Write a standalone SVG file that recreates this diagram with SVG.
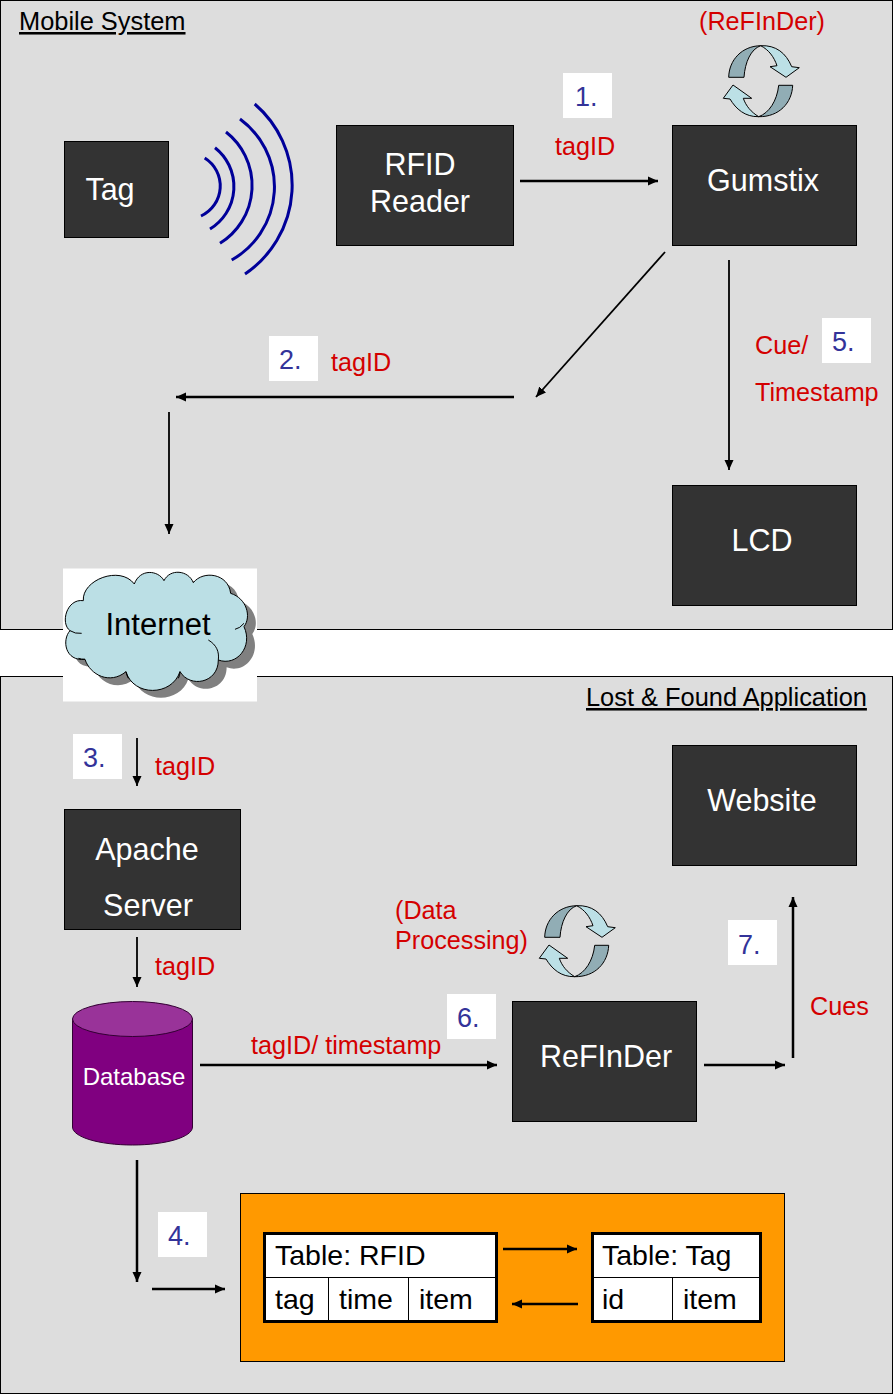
<svg xmlns="http://www.w3.org/2000/svg" xmlns:xlink="http://www.w3.org/1999/xlink" width="896" height="1398" viewBox="0 0 896 1398">
<style>
text{font-family:"Liberation Sans",Arial,sans-serif}
.panel{fill:#dddddd;stroke:#000;stroke-width:1}
.box{fill:#333333;stroke:#000;stroke-width:1}
.bt{fill:#fff;font-size:30.500px;text-anchor:middle}
.red{fill:#d40000;font-size:25.200px}
.num{fill:#333399;font-size:27px}
.nbox{fill:#fff}
.ttl{fill:#000;font-size:25.400px;text-decoration:underline}
.tt{fill:#000;font-size:28.500px}
.c{fill:none;stroke:#000;stroke-width:2.500}
.c1{fill:none;stroke:#000;stroke-width:1.800}
.wave{fill:none;stroke:#000099;stroke-width:3}
.dk{fill:#91adb5;stroke:#000;stroke-width:1}
.lt{fill:#bce0e6;stroke:#000;stroke-width:1}
.tb{fill:#fff;stroke:#000;stroke-width:3}
.tl{fill:none;stroke:#000;stroke-width:1}
</style>
<defs>
<marker id="a" markerWidth="12" markerHeight="12" refX="10" refY="5" orient="auto" markerUnits="userSpaceOnUse"><path d="M0 0.500L10 5L0 9.500Z" fill="#000"/></marker>
<g id="cyc">
<path class="dk" d="M728.7 77.3C729 60 742 46 760.7 45.7C751 49 745 62 744 77.3Z"/>
<path class="lt" d="M760.7 45.7C776 45 786 53 791.7 66.7L799.3 67.7L786 77.3L770 66.7L777 65.7C774 57 769 50 760.7 45.7Z"/>
<path class="dk" d="M792.7 85.3C792 103 779 117 758.7 116.7C769 113 777 101 778.7 85.3Z"/>
<path class="lt" d="M758.7 116.7C745 117 736 109 730 99L723.3 98.3L733 85L751.7 98.3L743.3 98.3C746 106 751 112 758.7 116.7Z"/>
</g>
<path id="cl" d="M130 122C125 60 240 15 283 72C300 25 355 30 372 62C390 25 445 30 460 68C490 30 565 40 572 100C620 115 635 170 612 200C640 260 590 320 535 300C535 370 450 385 420 335C395 410 280 410 258 335C210 375 150 345 135 298C75 305 65 240 90 212C60 190 80 115 130 122Z"/>
</defs>
<rect width="896" height="1398" fill="#fff"/>
<rect class="panel" x="0.500" y="0.500" width="892" height="629"/>
<rect class="panel" x="0.500" y="676.500" width="892" height="717"/>
<text class="ttl" x="19" y="30">Mobile System</text>
<text class="ttl" x="586" y="706">Lost &amp; Found Application</text>

<g id="connectors">
<path class="c" marker-end="url(#a)" d="M520 181H658"/>
<path class="c1" marker-end="url(#a)" d="M665 252L536 397"/>
<path class="c" marker-end="url(#a)" d="M514 397H176"/>
<path class="c1" marker-end="url(#a)" d="M169 412V534"/>
<path class="c1" marker-end="url(#a)" d="M729 260V470"/>
<path class="c1" marker-end="url(#a)" d="M137 738V786"/>
<path class="c1" marker-end="url(#a)" d="M137 937V987"/>
<path class="c" marker-end="url(#a)" d="M200 1065H497"/>
<path class="c" marker-end="url(#a)" d="M704 1065H785"/>
<path class="c" marker-end="url(#a)" d="M793 1058V897"/>
<path class="c" marker-end="url(#a)" d="M137 1160V1282"/>
<path class="c" marker-end="url(#a)" d="M152 1289H225"/>
</g>

<g id="tag"><rect class="box" x="64.500" y="141.500" width="104" height="96"/><text class="bt" x="110" y="200">Tag</text></g>
<g id="waves">
<path class="wave" d="M204.700 158A33 33 0 0 1 201 216"/>
<path class="wave" d="M215 147.700A49.500 49.500 0 0 1 210 229"/>
<path class="wave" d="M226 132A68 68 0 0 1 220 243.300"/>
<path class="wave" d="M240 119A84 84 0 0 1 231.700 260"/>
<path class="wave" d="M254.700 104A107 107 0 0 1 245 274"/>
</g>
<g id="rfid-reader"><rect class="box" x="336.500" y="125.500" width="177" height="120"/><text class="bt" x="420" y="175">RFID</text><text class="bt" x="420" y="212">Reader</text></g>
<g id="gumstix"><rect class="box" x="672.500" y="125.500" width="184" height="120"/><text class="bt" x="763" y="191">Gumstix</text></g>
<g id="lcd"><rect class="box" x="672.500" y="485.500" width="184" height="120"/><text class="bt" x="762" y="551">LCD</text></g>
<g id="website"><rect class="box" x="672.500" y="745.500" width="184" height="120"/><text class="bt" x="762" y="811">Website</text></g>
<g id="apache"><rect class="box" x="64.500" y="809.500" width="176" height="120"/><text class="bt" x="147" y="860">Apache</text><text class="bt" x="148" y="916">Server</text></g>
<g id="refinder"><rect class="box" x="512.500" y="1001.500" width="184" height="120"/><text class="bt" x="606" y="1067">ReFInDer</text></g>

<g id="refinder-cycle"><use xlink:href="#cyc" href="#cyc"/></g>
<g id="processing-cycle"><use xlink:href="#cyc" href="#cyc" transform="translate(-184 860)"/></g>

<g id="internet">
<rect x="63" y="568.500" width="194" height="133" fill="#fff"/>
<g transform="translate(40 560) scale(.3333)">
<use href="#cl" xlink:href="#cl" transform="translate(25 22)" fill="#808080"/>
<use href="#cl" xlink:href="#cl" fill="#bbdfe5" stroke="#000" stroke-width="3"/>
<path d="M505 240C530 255 538 275 535 300M585 208Q600 205 612 190M90 212Q105 222 125 220M135 298Q125 298 115 295M258 335Q260 347 265 355M420 335Q420 347 415 355" fill="none" stroke="#000" stroke-width="3"/>
</g>
<text x="158" y="635" font-size="31" text-anchor="middle" fill="#000">Internet</text>
</g>

<g id="database">
<path d="M72.500 1019V1127C72.500 1137 99 1145 132.500 1145S192.500 1137 192.500 1127V1019Z" fill="#800080" stroke="#330033"/>
<ellipse cx="132.500" cy="1019" rx="60" ry="17.500" fill="#993399" stroke="#330033"/>
<text x="134" y="1085" font-size="24" text-anchor="middle" fill="#fff">Database</text>
</g>

<g id="tables">
<rect x="240.500" y="1193.500" width="544" height="168" fill="#ff9900" stroke="#000"/>
<g id="table-rfid">
<rect class="tb" x="264.500" y="1233.500" width="232" height="88"/>
<path class="tl" d="M265 1277.500H496M328.500 1278V1321M408.500 1278V1321"/>
<text class="tt" x="275" y="1265">Table: RFID</text>
<text class="tt" x="275" y="1309">tag</text>
<text class="tt" x="339" y="1309">time</text>
<text class="tt" x="419" y="1309">item</text>
</g>
<g id="table-tag">
<rect class="tb" x="592.500" y="1233.500" width="168" height="88"/>
<path class="tl" d="M593 1277.500H760M672.500 1278V1321"/>
<text class="tt" x="602" y="1265">Table: Tag</text>
<text class="tt" x="602" y="1309">id</text>
<text class="tt" x="683" y="1309">item</text>
</g>
<path class="c" marker-end="url(#a)" d="M503 1249H577"/>
<path class="c" marker-end="url(#a)" d="M578 1304H512"/>
</g>

<g id="labels">
<rect class="nbox" x="563" y="73" width="49" height="45"/><text class="num" x="575" y="106">1.</text>
<rect class="nbox" x="269" y="336" width="49" height="45"/><text class="num" x="279" y="369">2.</text>
<rect class="nbox" x="73" y="734" width="49" height="45"/><text class="num" x="83" y="767">3.</text>
<rect class="nbox" x="158" y="1212" width="49" height="45"/><text class="num" x="168" y="1245">4.</text>
<rect class="nbox" x="822" y="318" width="49" height="45"/><text class="num" x="832" y="351">5.</text>
<rect class="nbox" x="447" y="994" width="49" height="45"/><text class="num" x="457" y="1027">6.</text>
<rect class="nbox" x="728" y="920" width="49" height="45"/><text class="num" x="738" y="954">7.</text>
<text class="red" x="699" y="30">(ReFInDer)</text>
<text class="red" x="555" y="155">tagID</text>
<text class="red" x="331" y="371">tagID</text>
<text class="red" x="755" y="354">Cue/</text>
<text class="red" x="755" y="401">Timestamp</text>
<text class="red" x="155" y="775">tagID</text>
<text class="red" x="155" y="975">tagID</text>
<text class="red" x="395" y="919">(Data</text>
<text class="red" x="395" y="949">Processing)</text>
<text class="red" x="251" y="1054">tagID/ timestamp</text>
<text class="red" x="810" y="1015">Cues</text>
</g>
</svg>
